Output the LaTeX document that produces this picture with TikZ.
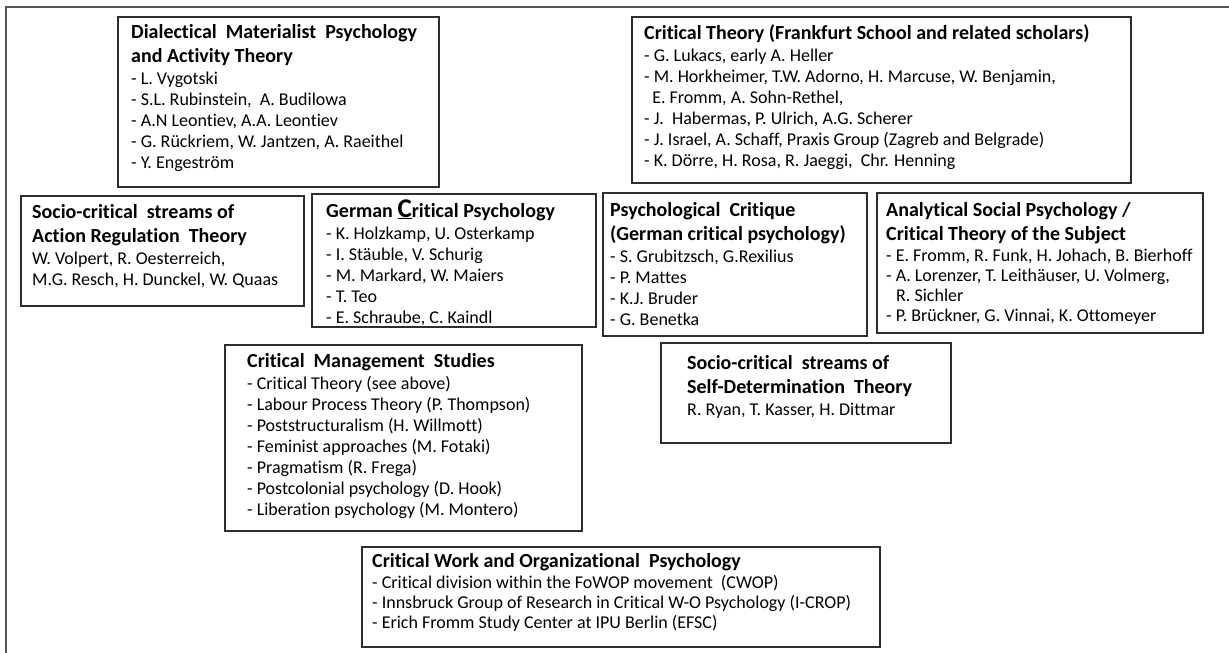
\documentclass[tikz,border=0pt]{standalone}
\usepackage{fontspec}
\setmainfont{Carlito}[Ligatures={NoCommon}]
\definecolor{framec}{HTML}{555555}
\definecolor{boxc}{HTML}{2E2E2E}
\newcommand{\ttlfont}{\fontsize{20}{24.5}\selectfont\bfseries}
\newcommand{\boxcontent}[3]{\parbox[t]{560pt}{\raggedright{\ttlfont #1\par}\vspace{1pt}{\fontsize{18}{#2}\selectfont #3\par}}}
\tikzset{
  frameline/.style={draw=framec, line width=1.6pt},
  boxline/.style={draw=boxc, line width=1.3pt},
  txt/.style={anchor=base west, inner sep=0pt, text=black},
}
\begin{document}
\begin{tikzpicture}[x=1pt,y=-1pt]
\useasboundingbox (0,0) rectangle (1229,653);
% outer frame (cut at right and bottom)
\draw[frameline] (6,653) -- (6,7) -- (1229,7);

% boxes
\draw[boxline] (118,17) rectangle (439,187);
\draw[boxline] (632,17) rectangle (1131,183);
\draw[boxline] (21,196) rectangle (304,306);
\draw[boxline] (312,194) rectangle (596,327);
\draw[boxline] (603,193) rectangle (867,336);
\draw[boxline] (877,193) rectangle (1203,333);
\draw[boxline] (225,345) rectangle (582,531);
\draw[boxline] (661,343) rectangle (951,443);
\draw[boxline] (362,547) rectangle (880,647);

% texts
\node[txt] (dmp) at (131,38) {\boxcontent{Dialectical\ \ Materialist\ \ Psychology\\ and Activity Theory}{21}{- L. Vygotski\\ - S.L. Rubinstein,\ \ A. Budilowa\\ - A.N Leontiev, A.A. Leontiev\\ - G. Rückriem, W. Jantzen, A. Raeithel\\ - Y. Engeström}};

\node[txt] (ct) at (644,39) {\boxcontent{Critical Theory (Frankfurt School and related scholars)}{21}{- G. Lukacs, early A. Heller\\ - M. Horkheimer, T.W. Adorno, H. Marcuse, W. Benjamin,\\ \hspace*{0.45em}E. Fromm, A. Sohn-Rethel,\\ - J.\ \ Habermas, P. Ulrich, A.G. Scherer\\ - J. Israel, A. Schaff, Praxis Group (Zagreb and Belgrade)\\ - K. Dörre, H. Rosa, R. Jaeggi,\ \ Chr. Henning}};

\node[txt] (art) at (32,218) {\boxcontent{Socio-critical\ \ streams of\\ Action Regulation\ \ Theory}{21}{W. Volpert, R. Oesterreich,\\ M.G. Resch, H. Dunckel, W. Quaas}};

\node[txt] (gcp) at (326,217) {\boxcontent{German \underline{\fontsize{27}{27}\selectfont C}ritical Psychology}{21}{- K. Holzkamp, U. Osterkamp\\ - I. Stäuble, V. Schurig\\ - M. Markard, W. Maiers\\ - T. Teo\\ - E. Schraube, C. Kaindl}};

\node[txt] (pc) at (610,216) {\boxcontent{Psychological\ \ Critique\\ (German critical psychology)}{21}{- S. Grubitzsch, G.Rexilius\\ - P. Mattes\\ - K.J. Bruder\\ - G. Benetka}};

\node[txt] (asp) at (886,216) {\boxcontent{Analytical Social Psychology /\\ Critical Theory of the Subject}{20}{- E. Fromm, R. Funk, H. Johach, B. Bierhoff\\ - A. Lorenzer, T. Leithäuser, U. Volmerg,\\ \hspace*{0.55em}R. Sichler\\ - P. Brückner, G. Vinnai, K. Ottomeyer}};

\node[txt] (cms) at (247,367) {\boxcontent{Critical\ \ Management\ \ Studies}{21}{- Critical Theory (see above)\\ - Labour Process Theory (P. Thompson)\\ - Poststructuralism (H. Willmott)\\ - Feminist approaches (M. Fotaki)\\ - Pragmatism (R. Frega)\\ - Postcolonial psychology (D. Hook)\\ - Liberation psychology (M. Montero)}};

\node[txt] (sdt) at (687,369) {\boxcontent{Socio-critical\ \ streams of\\ Self-Determination\ \ Theory}{21}{R. Ryan, T. Kasser, H. Dittmar}};

\node[txt] (cwop) at (372,567) {\boxcontent{Critical Work and Organizational\ \ Psychology}{20}{- Critical division within the FoWOP movement\ \ (CWOP)\\ - Innsbruck Group of Research in Critical W-O Psychology (I-CROP)\\ - Erich Fromm Study Center at IPU Berlin (EFSC)}};
\end{tikzpicture}
\end{document}
